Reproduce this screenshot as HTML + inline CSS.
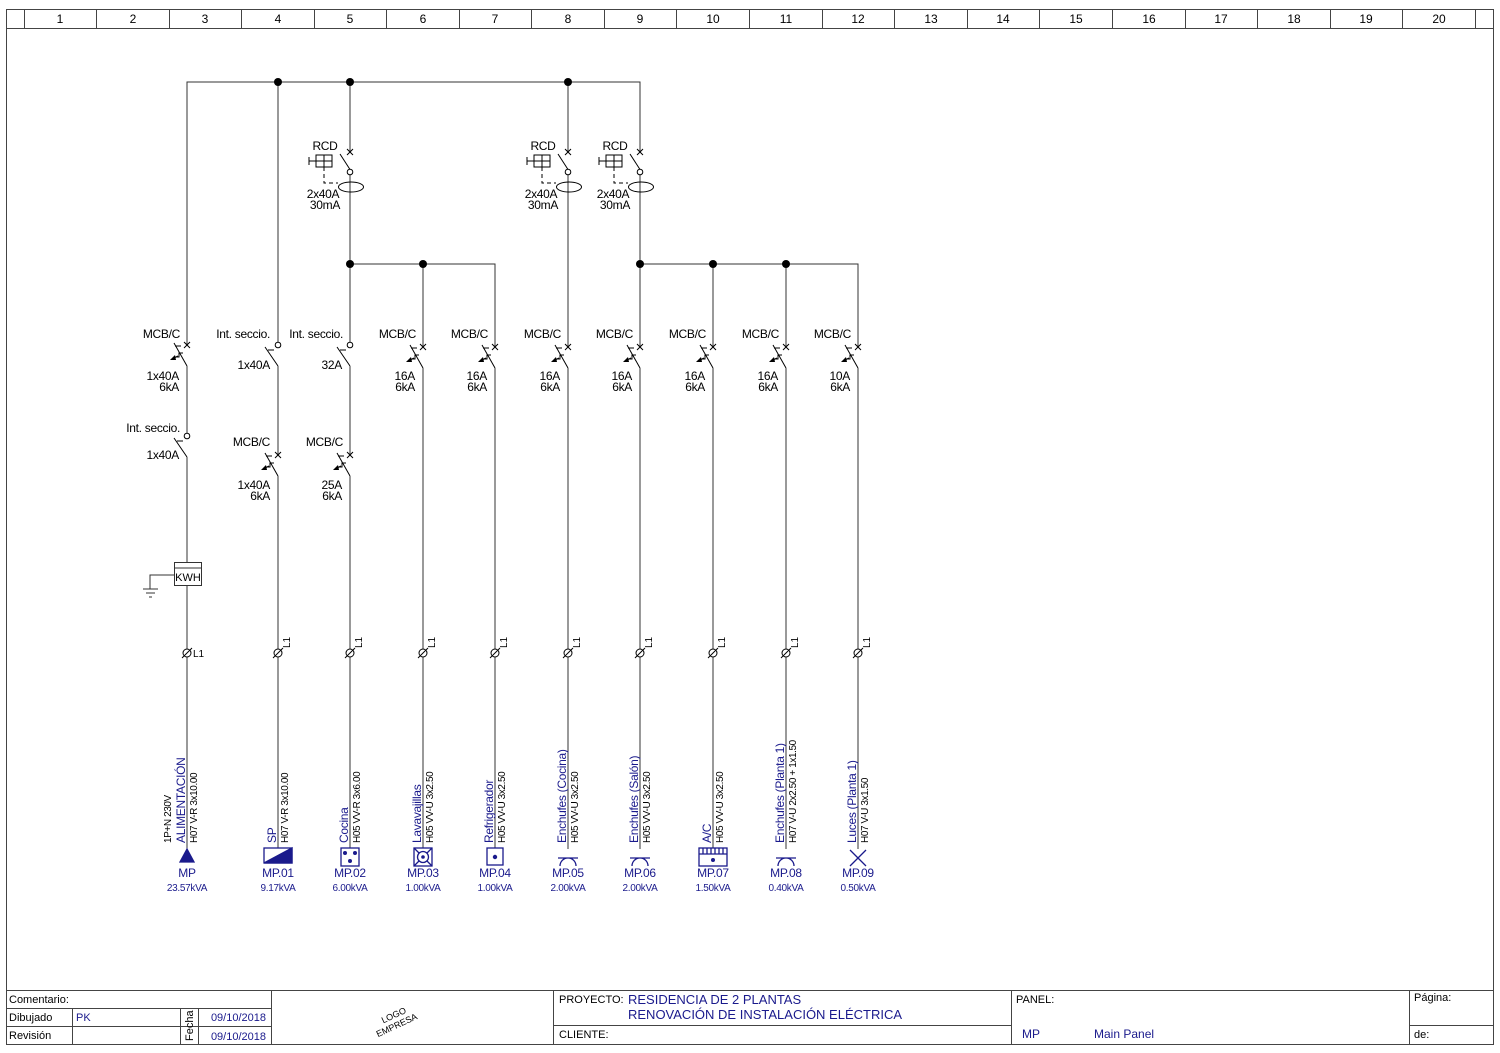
<!DOCTYPE html>
<html><head><meta charset="utf-8"><style>
html,body{margin:0;padding:0;background:#fff;}
svg{display:block;font-family:"Liberation Sans",Arial,sans-serif;}
.b{fill:#1a1a8c}
</style></head><body>
<svg width="1500" height="1053" viewBox="0 0 1500 1053" xmlns="http://www.w3.org/2000/svg">
<defs>
<g id="mcb">
<rect x="-2" y="1" width="4" height="20" fill="#fff"/>
<path d="M-3,-3L3,3M-3,3L3,-3M-13,-2L0,21M-4,8L-8,8L-8,12L-11,12" stroke="#000" stroke-width="1" fill="none"/>
<path d="M-9,11L-15,14" stroke="#000" stroke-width="1.2"/>
<path d="M-17,15L-12,10L-11,15Z" fill="#000"/>
<path d="M-12,1L-6,1" stroke="#000"/>
</g>
<g id="isec">
<rect x="-2" y="2" width="4" height="19" fill="#fff"/>
<circle cx="0" cy="0" r="2.8" fill="#fff" stroke="#000"/>
<path d="M-13,2L0,21M-10,5L-4,5" stroke="#000" fill="none"/>
</g>
<g id="rcd">
<rect x="-2" y="1" width="4" height="17" fill="#fff"/>
<path d="M-3,-3L3,3M-3,3L3,-3M-10,2L0,17.5" stroke="#000" fill="none"/>
<circle cx="0" cy="20" r="2.8" fill="#fff" stroke="#000"/>
<ellipse cx="1" cy="35" rx="12.5" ry="5" fill="none" stroke="#000"/>
<rect x="-34" y="3" width="16" height="12" fill="none" stroke="#000"/>
<path d="M-26,3V15M-34,9H-18M-41,9H-34M-41,5V13" stroke="#000" fill="none"/>
<path d="M-26,15V31H-12" stroke="#000" fill="none" stroke-dasharray="4,3"/>
</g>
<g id="term">
<circle cx="0" cy="0" r="4" fill="#fff" stroke="#000"/>
<path d="M-5,5L5,-5" stroke="#000"/>
</g>
<g id="plug">
<path d="M-8,866A8,8 0 0 1 8,866M-10,858H10" stroke="#1a1a8c" stroke-width="1.3" fill="none"/>
</g>
</defs>

<!-- frame -->
<g stroke="#444" fill="none" stroke-width="1">
<rect x="6.5" y="9.5" width="1487" height="1035"/>
<line x1="6" y1="28.5" x2="1493" y2="28.5"/>
<line x1="24.5" y1="9" x2="24.5" y2="28"/>
<line x1="96.5" y1="9" x2="96.5" y2="28"/>
<line x1="169.5" y1="9" x2="169.5" y2="28"/>
<line x1="241.5" y1="9" x2="241.5" y2="28"/>
<line x1="314.5" y1="9" x2="314.5" y2="28"/>
<line x1="386.5" y1="9" x2="386.5" y2="28"/>
<line x1="459.5" y1="9" x2="459.5" y2="28"/>
<line x1="531.5" y1="9" x2="531.5" y2="28"/>
<line x1="604.5" y1="9" x2="604.5" y2="28"/>
<line x1="676.5" y1="9" x2="676.5" y2="28"/>
<line x1="749.5" y1="9" x2="749.5" y2="28"/>
<line x1="822.5" y1="9" x2="822.5" y2="28"/>
<line x1="894.5" y1="9" x2="894.5" y2="28"/>
<line x1="967.5" y1="9" x2="967.5" y2="28"/>
<line x1="1039.5" y1="9" x2="1039.5" y2="28"/>
<line x1="1112.5" y1="9" x2="1112.5" y2="28"/>
<line x1="1185.5" y1="9" x2="1185.5" y2="28"/>
<line x1="1257.5" y1="9" x2="1257.5" y2="28"/>
<line x1="1330.5" y1="9" x2="1330.5" y2="28"/>
<line x1="1402.5" y1="9" x2="1402.5" y2="28"/>
<line x1="1475.5" y1="9" x2="1475.5" y2="28"/>
</g>
<g font-size="12" text-anchor="middle">
<text x="60" y="23">1</text><text x="133" y="23">2</text><text x="205" y="23">3</text><text x="278" y="23">4</text><text x="350" y="23">5</text><text x="423" y="23">6</text><text x="495" y="23">7</text><text x="568" y="23">8</text><text x="640" y="23">9</text><text x="713" y="23">10</text><text x="786" y="23">11</text><text x="858" y="23">12</text><text x="931" y="23">13</text><text x="1003" y="23">14</text><text x="1076" y="23">15</text><text x="1149" y="23">16</text><text x="1221" y="23">17</text><text x="1294" y="23">18</text><text x="1366" y="23">19</text><text x="1439" y="23">20</text>
</g>

<!-- title block -->
<g stroke="#444" fill="none">
<line x1="6" y1="990.5" x2="1493" y2="990.5"/>
<line x1="6" y1="1008.5" x2="271" y2="1008.5"/>
<line x1="6" y1="1026.5" x2="271" y2="1026.5"/>
<line x1="72.5" y1="1008" x2="72.5" y2="1044"/>
<line x1="180.5" y1="1008" x2="180.5" y2="1044"/>
<line x1="198.5" y1="1008" x2="198.5" y2="1044"/>
<line x1="271.5" y1="990" x2="271.5" y2="1044"/>
<line x1="553.5" y1="990" x2="553.5" y2="1044"/>
<line x1="553" y1="1025.5" x2="1011" y2="1025.5"/>
<line x1="1011.5" y1="990" x2="1011.5" y2="1044"/>
<line x1="1409.5" y1="990" x2="1409.5" y2="1044"/>
<line x1="1409" y1="1025.5" x2="1493" y2="1025.5"/>
</g>
<g font-size="11">
<text x="9" y="1003">Comentario:</text>
<text x="9" y="1021">Dibujado</text>
<text x="9" y="1039">Revisión</text>
<text x="76" y="1021" class="b">PK</text>
<text x="266" y="1021" class="b" text-anchor="end">09/10/2018</text>
<text x="266" y="1040" class="b" text-anchor="end">09/10/2018</text>
<text transform="translate(193,1041) rotate(-90)" font-size="11">Fecha</text>
<text transform="translate(395,1018) rotate(-25)" font-size="9" text-anchor="middle">LOGO</text>
<text transform="translate(398,1028) rotate(-25)" font-size="9" text-anchor="middle">EMPRESA</text>
<text x="559" y="1003">PROYECTO:</text>
<text x="628" y="1004" class="b" font-size="13">RESIDENCIA DE 2 PLANTAS</text>
<text x="628" y="1019" class="b" font-size="13">RENOVACIÓN DE INSTALACIÓN ELÉCTRICA</text>
<text x="559" y="1038">CLIENTE:</text>
<text x="1016" y="1003">PANEL:</text>
<text x="1022" y="1038" class="b" font-size="12">MP</text>
<text x="1094" y="1038" class="b" font-size="12">Main Panel</text>
<text x="1414" y="1001">Página:</text>
<text x="1414" y="1038">de:</text>
</g>

<!-- wiring -->
<g stroke="#333" stroke-width="1" fill="none">
<path d="M187,849V82H640V849"/>
<path d="M278,82V849M350,82V849M568,82V849"/>
<path d="M350,264H495V849M423,264V849"/>
<path d="M640,264H858V849M713,264V849M786,264V849"/>
<rect x="174.5" y="562.5" width="27" height="23" fill="#fff"/>
<path d="M174,568H201M174,575H150V589M143,589H158M146,593H155M149,597H152"/>
</g>
<g fill="#000">
<circle cx="278" cy="82" r="4"/><circle cx="350" cy="82" r="4"/><circle cx="568" cy="82" r="4"/>
<circle cx="350" cy="264" r="4"/><circle cx="423" cy="264" r="4"/>
<circle cx="640" cy="264" r="4"/><circle cx="713" cy="264" r="4"/><circle cx="786" cy="264" r="4"/>
</g>
<text x="188" y="581" font-size="11" text-anchor="middle">KWH</text>

<!-- RCDs -->
<use href="#rcd" x="350" y="152"/>
<use href="#rcd" x="568" y="152"/>
<use href="#rcd" x="640" y="152"/>
<g font-size="12" text-anchor="middle" letter-spacing="-0.3">
<text x="325" y="150">RCD</text><text x="323" y="198">2x40A</text><text x="325" y="209">30mA</text>
<text x="543" y="150">RCD</text><text x="541" y="198">2x40A</text><text x="543" y="209">30mA</text>
<text x="615" y="150">RCD</text><text x="613" y="198">2x40A</text><text x="615" y="209">30mA</text>
</g>

<!-- breakers -->
<use href="#mcb" x="187" y="345"/>
<use href="#isec" x="187" y="436"/>
<use href="#isec" x="278" y="345"/>
<use href="#mcb" x="278" y="455"/>
<use href="#isec" x="350" y="345"/>
<use href="#mcb" x="350" y="455"/>
<use href="#mcb" x="423" y="347"/>
<use href="#mcb" x="495" y="347"/>
<use href="#mcb" x="568" y="347"/>
<use href="#mcb" x="640" y="347"/>
<use href="#mcb" x="713" y="347"/>
<use href="#mcb" x="786" y="347"/>
<use href="#mcb" x="858" y="347"/>
<g font-size="12" text-anchor="end" letter-spacing="-0.3">
<text x="180" y="338">MCB/C</text><text x="179" y="380">1x40A</text><text x="179" y="391">6kA</text>
<text x="180" y="432">Int. seccio.</text><text x="179" y="459">1x40A</text>
<text x="270" y="338">Int. seccio.</text><text x="270" y="369">1x40A</text>
<text x="270" y="446">MCB/C</text><text x="270" y="489">1x40A</text><text x="270" y="500">6kA</text>
<text x="343" y="338">Int. seccio.</text><text x="342" y="369">32A</text>
<text x="343" y="446">MCB/C</text><text x="342" y="489">25A</text><text x="342" y="500">6kA</text>
<text x="416" y="338">MCB/C</text><text x="415" y="380">16A</text><text x="415" y="391">6kA</text>
<text x="488" y="338">MCB/C</text><text x="487" y="380">16A</text><text x="487" y="391">6kA</text>
<text x="561" y="338">MCB/C</text><text x="560" y="380">16A</text><text x="560" y="391">6kA</text>
<text x="633" y="338">MCB/C</text><text x="632" y="380">16A</text><text x="632" y="391">6kA</text>
<text x="706" y="338">MCB/C</text><text x="705" y="380">16A</text><text x="705" y="391">6kA</text>
<text x="779" y="338">MCB/C</text><text x="778" y="380">16A</text><text x="778" y="391">6kA</text>
<text x="851" y="338">MCB/C</text><text x="850" y="380">10A</text><text x="850" y="391">6kA</text>
</g>

<!-- terminals -->
<use href="#term" x="187" y="653"/><use href="#term" x="278" y="653"/><use href="#term" x="350" y="653"/><use href="#term" x="423" y="653"/><use href="#term" x="495" y="653"/><use href="#term" x="568" y="653"/><use href="#term" x="640" y="653"/><use href="#term" x="713" y="653"/><use href="#term" x="786" y="653"/><use href="#term" x="858" y="653"/>
<g font-size="10">
<text x="193" y="657">L1</text>
<text transform="translate(290,648) rotate(-90)">L1</text>
<text transform="translate(362,648) rotate(-90)">L1</text>
<text transform="translate(435,648) rotate(-90)">L1</text>
<text transform="translate(507,648) rotate(-90)">L1</text>
<text transform="translate(580,648) rotate(-90)">L1</text>
<text transform="translate(652,648) rotate(-90)">L1</text>
<text transform="translate(725,648) rotate(-90)">L1</text>
<text transform="translate(798,648) rotate(-90)">L1</text>
<text transform="translate(870,648) rotate(-90)">L1</text>
</g>

<!-- vertical labels -->
<g font-size="12" class="b" letter-spacing="-0.3">
<text transform="translate(185,843) rotate(-90)">ALIMENTACIÓN</text>
<text transform="translate(276,843) rotate(-90)">SP</text>
<text transform="translate(348,843) rotate(-90)">Cocina</text>
<text transform="translate(421,843) rotate(-90)">Lavavajillas</text>
<text transform="translate(493,843) rotate(-90)">Refrigerador</text>
<text transform="translate(566,843) rotate(-90)">Enchufes (Cocina)</text>
<text transform="translate(638,843) rotate(-90)">Enchufes (Salón)</text>
<text transform="translate(711,843) rotate(-90)">A/C</text>
<text transform="translate(784,843) rotate(-90)">Enchufes (Planta 1)</text>
<text transform="translate(856,843) rotate(-90)">Luces (Planta 1)</text>
</g>
<g font-size="10" letter-spacing="-0.4">
<text transform="translate(171,843) rotate(-90)">1P+N  230V</text>
<text transform="translate(197,843) rotate(-90)">H07 V-R 3x10.00</text>
<text transform="translate(288,843) rotate(-90)">H07 V-R 3x10.00</text>
<text transform="translate(360,843) rotate(-90)">H05 VV-R 3x6.00</text>
<text transform="translate(433,843) rotate(-90)">H05 VV-U 3x2.50</text>
<text transform="translate(505,843) rotate(-90)">H05 VV-U 3x2.50</text>
<text transform="translate(578,843) rotate(-90)">H05 VV-U 3x2.50</text>
<text transform="translate(650,843) rotate(-90)">H05 VV-U 3x2.50</text>
<text transform="translate(723,843) rotate(-90)">H05 VV-U 3x2.50</text>
<text transform="translate(796,843) rotate(-90)">H07 V-U 2x2.50 + 1x1.50</text>
<text transform="translate(868,843) rotate(-90)">H07 V-U 3x1.50</text>
</g>

<!-- load symbols -->
<g stroke="#1a1a8c" stroke-width="1.3" fill="none">
<path d="M187,849L180,862H194Z" fill="#1a1a8c"/>
<rect x="264" y="848" width="28" height="15" fill="#fff"/>
<path d="M264,863L292,848V863Z" fill="#1a1a8c"/>
<rect x="341" y="848" width="18" height="18" fill="#fff"/>
<rect x="414" y="848" width="18" height="18" fill="#fff"/>
<path d="M414,848L432,866M432,848L414,866"/>
<circle cx="423" cy="857" r="5.5" fill="#fff"/>
<rect x="487" y="848" width="16" height="17" fill="#fff"/>
<rect x="699" y="848" width="28" height="18" fill="#fff"/>
<path d="M699,854H727M703,848V854M707,848V854M711,848V854M715,848V854M719,848V854M723,848V854"/>
<path d="M850,850L866,866M866,850L850,866"/>
</g>
<g fill="#1a1a8c">
<circle cx="345" cy="853" r="2"/><circle cx="355" cy="853" r="2"/><circle cx="350" cy="861" r="2"/>
<circle cx="423" cy="857" r="1.8"/><circle cx="495" cy="857" r="2.2"/><circle cx="713" cy="860" r="2"/>
</g>
<use href="#plug" x="568" y="0"/><use href="#plug" x="640" y="0"/><use href="#plug" x="786" y="0"/>

<g text-anchor="middle" class="b" letter-spacing="-0.3">
<g font-size="12">
<text x="187" y="877">MP</text><text x="278" y="877">MP.01</text><text x="350" y="877">MP.02</text><text x="423" y="877">MP.03</text><text x="495" y="877">MP.04</text><text x="568" y="877">MP.05</text><text x="640" y="877">MP.06</text><text x="713" y="877">MP.07</text><text x="786" y="877">MP.08</text><text x="858" y="877">MP.09</text>
</g>
<g font-size="10">
<text x="187" y="891">23.57kVA</text><text x="278" y="891">9.17kVA</text><text x="350" y="891">6.00kVA</text><text x="423" y="891">1.00kVA</text><text x="495" y="891">1.00kVA</text><text x="568" y="891">2.00kVA</text><text x="640" y="891">2.00kVA</text><text x="713" y="891">1.50kVA</text><text x="786" y="891">0.40kVA</text><text x="858" y="891">0.50kVA</text>
</g>
</g>
</svg>
</body></html>
